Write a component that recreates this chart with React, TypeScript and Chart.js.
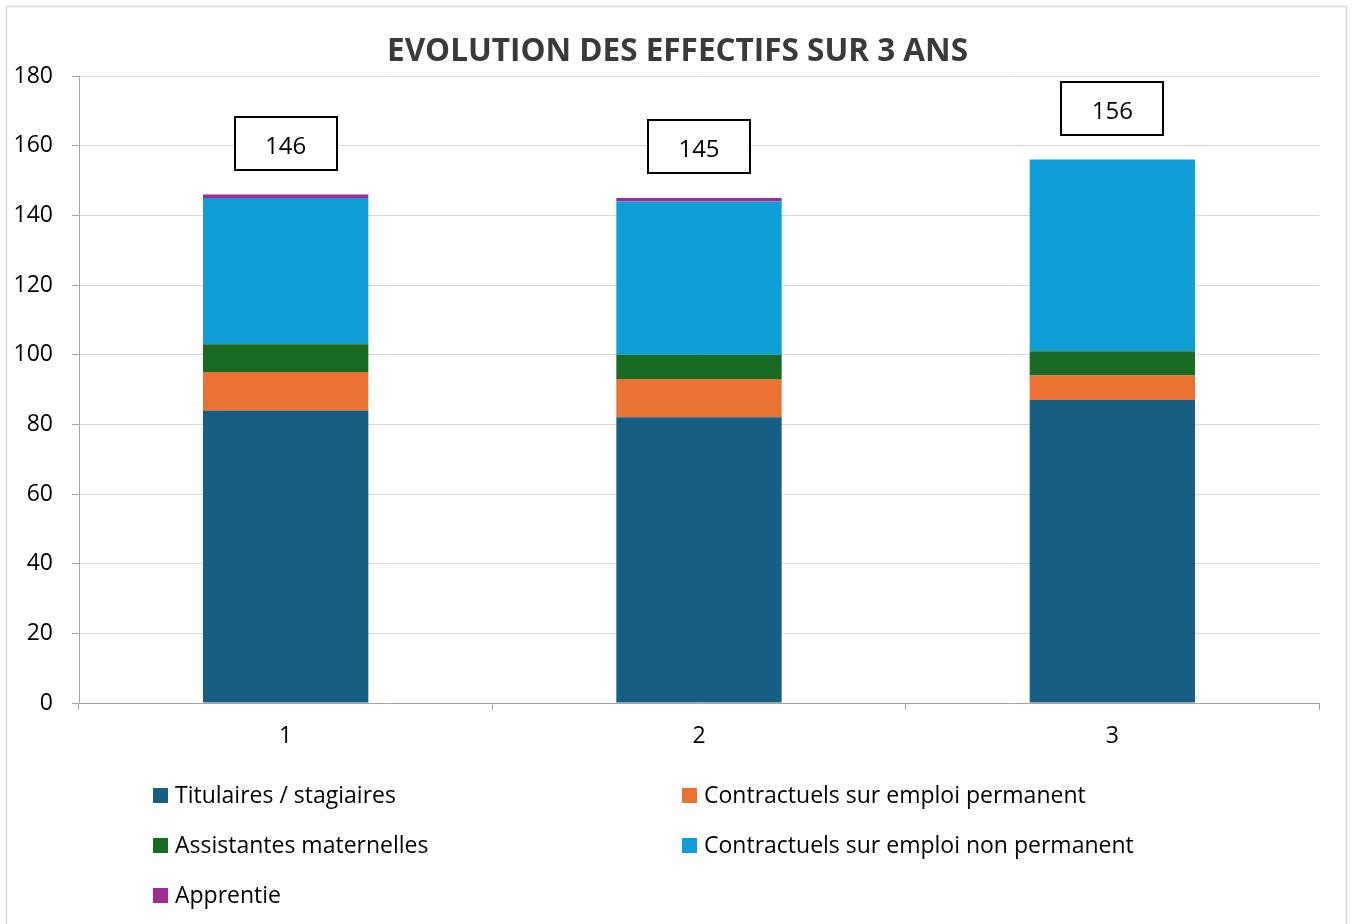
import React, { useEffect, useRef } from "react";
import { Chart, registerables } from "chart.js";

Chart.register(...registerables);

const TITLE = "EVOLUTION DES EFFECTIFS SUR 3 ANS";
const categories = ["1", "2", "3"];
const seriesNames = [
  "Titulaires / stagiaires",
  "Contractuels sur emploi permanent",
  "Assistantes maternelles",
  "Contractuels sur emploi non permanent",
  "Apprentie",
];
const titulaires = [84, 82, 87];
const contractuelsPermanent = [11, 11, 7];
const assistantesMaternelles = [8, 7, 7];
const contractuelsNonPermanent = [42, 44, 55];
const apprentie = [1, 1, 0];
const seriesColors = ["#175F82", "#E97132", "#196B24", "#0F9ED5", "#A02B93"];
const yTicks = { min: 0, max: 180, step: 20 };

const FONT = "'Open Sans', 'DejaVu Sans', sans-serif";

const decorPlugin = {
  id: "decor",
  beforeDraw(chart: any) {
    const ctx = chart.ctx;
    ctx.save();
    ctx.fillStyle = "#FFFFFF";
    ctx.fillRect(0, 0, chart.width, chart.height);
    ctx.strokeStyle = "#D9D9D9";
    ctx.lineWidth = 1.5;
    ctx.strokeRect(6.5, 6.5, chart.width - 13, chart.height + 20);
    ctx.restore();
  },
  afterDraw(chart: any) {
    const ctx = chart.ctx;
    ctx.save();
    // title
    ctx.font = `bold 31.5px ${FONT}`;
    ctx.fillStyle = "#3A3A3A";
    ctx.textAlign = "center";
    ctx.textBaseline = "alphabetic";
    ctx.fillText(TITLE, 677.5, 61, 581);

    // totals
    const yScale = chart.scales.y;
    const meta0 = chart.getDatasetMeta(0);
    categories.forEach((_, i) => {
      let total = 0;
      chart.data.datasets.forEach((ds: any) => (total += ds.data[i]));
      const x = meta0.data[i].x;
      const cy = yScale.getPixelForValue(total) - 51;
      const w = 102, h = 53;
      ctx.fillStyle = "#FFFFFF";
      ctx.fillRect(x - w / 2, cy - h / 2, w, h);
      ctx.strokeStyle = "#000000";
      ctx.lineWidth = 2;
      ctx.strokeRect(Math.round(x - w / 2), Math.round(cy - h / 2), w, h);
      ctx.fillStyle = "#000000";
      ctx.font = `24px ${FONT}`;
      ctx.textAlign = "center";
      ctx.textBaseline = "alphabetic";
      ctx.fillText(String(total), x, cy + 10.5);
    });

    // legend (2 columns, row-major)
    const colX = [153, 682];
    const rowBase = [803, 853, 903];
    chart.data.datasets.forEach((ds: any, k: number) => {
      const col = k % 2;
      const row = Math.floor(k / 2);
      const x = colX[col];
      const b = rowBase[row];
      ctx.fillStyle = ds.backgroundColor;
      ctx.fillRect(x, b - 15, 15, 15);
      ctx.fillStyle = "#000000";
      ctx.font = `23px ${FONT}`;
      ctx.textAlign = "left";
      ctx.textBaseline = "alphabetic";
      ctx.fillText(ds.label, x + 22, b);
    });
    ctx.restore();
  },
};

export default function App() {
  const ref = useRef<HTMLCanvasElement | null>(null);
  useEffect(() => {
    if (!ref.current) return;
    const seriesData = [
      titulaires,
      contractuelsPermanent,
      assistantesMaternelles,
      contractuelsNonPermanent,
      apprentie,
    ];
    const chart = new Chart(ref.current, {
      type: "bar",
      data: {
        labels: categories,
        datasets: seriesData.map((d, i) => ({
          label: seriesNames[i],
          data: d,
          backgroundColor: seriesColors[i],
          borderWidth: 0,
          categoryPercentage: 1,
          barPercentage: 0.4,
        })),
      },
      options: {
        animation: false,
        responsive: true,
        maintainAspectRatio: false,
        layout: { padding: { top: 76, right: 34, bottom: 161, left: 0 } },
        plugins: {
          legend: { display: false },
          title: { display: false },
          tooltip: { enabled: false },
        },
        scales: {
          x: {
            stacked: true,
            afterFit: (s: any) => {
              s.height = 60;
            },
            grid: {
              drawOnChartArea: false,
              drawTicks: true,
              tickLength: 7,
              color: "#A6A6A6",
              offset: true,
            },
            border: { color: "#A6A6A6" },
            ticks: { color: "#000000", font: { family: FONT, size: 23 }, padding: 13 },
          },
          y: {
            stacked: true,
            min: yTicks.min,
            max: yTicks.max,
            afterFit: (s: any) => {
              s.width = 79;
            },
            grid: { color: "#D9D9D9", tickColor: "#A6A6A6", tickLength: 7 },
            border: { color: "#A6A6A6" },
            ticks: {
              stepSize: yTicks.step,
              color: "#000000",
              font: { family: FONT, size: 23 },
              padding: 19,
            },
          },
        },
      },
      plugins: [decorPlugin],
    });
    return () => chart.destroy();
  }, []);
  return (
    <div style={{ position: "absolute", left: 0, top: 0, width: 1353, height: 924 }}>
      <canvas ref={ref} />
    </div>
  );
}
